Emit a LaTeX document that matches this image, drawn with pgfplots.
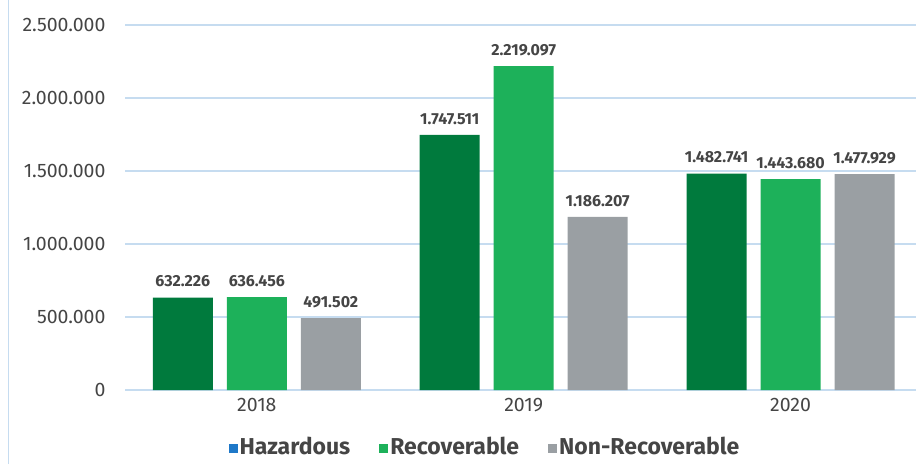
\documentclass[border=0pt]{standalone}
\usepackage{fontspec}
\setmainfont{Fira Sans}
\usepackage{pgfplots}
\pgfplotsset{compat=1.18}
\definecolor{dkgreen}{HTML}{007A3D}
\definecolor{ltgreen}{HTML}{1DB15A}
\definecolor{grayb}{HTML}{9A9FA3}
\definecolor{hazblue}{HTML}{1E78C8}
\definecolor{gridblue}{HTML}{C6DCF0}
\definecolor{txt}{HTML}{454545}
\begin{document}
\begin{tikzpicture}[x=1pt,y=1pt]
\useasboundingbox (0,0) rectangle (916,464);
\draw[gridblue, line width=1pt] (8,0) -- (8,464);
\begin{axis}[
  at={(125pt,74pt)}, anchor=south west,
  scale only axis, width=791pt, height=365pt,
  ybar, bar width=60pt,
  xmin=-0.494, xmax=2.47, ymin=0, ymax=2500000,
  xtick={0,1,2}, xticklabels={2018,2019,2020},
  ytick={0,500000,1000000,1500000,2000000,2500000},
  scaled y ticks=false,
  /pgf/number format/fixed,
  /pgf/number format/precision=0,
  /pgf/number format/1000 sep={.},
  /pgf/number format/assume math mode=true,
  ymajorgrids, grid style={gridblue, line width=1.3pt},
  axis line style={draw=none}, major tick length=0pt,
  ticklabel style={font=\fontsize{19.5}{19.5}\selectfont, text=txt},
  xticklabel style={yshift=-5pt},
  yticklabel style={xshift=-16pt},
  clip=false,
  nodes near coords,
  every node near coord/.append style={font=\bfseries\fontsize{16}{16}\selectfont, text=txt, yshift=7pt},
  legend style={at={(0.455,-0.156)}, anchor=center, draw=none, fill=none,
    legend columns=3, font=\bfseries\fontsize{23}{23}\selectfont, text=txt,
    /tikz/every even column/.append style={column sep=27pt}},
]
\addplot[fill=dkgreen, draw=none, bar shift=-74pt,
  legend image code/.code={\fill[hazblue] (2pt,-6pt) rectangle (11pt,3pt);}]
  coordinates {(0,632226) (1,1747511) (2,1482741)};
\addlegendentry{Hazardous}
\addplot[fill=ltgreen, draw=none, bar shift=0pt,
  legend image code/.code={\fill[ltgreen] (2pt,-6pt) rectangle (11pt,3pt);}]
  coordinates {(0,636456) (1,2219097) (2,1443680)};
\addlegendentry{Recoverable}
\addplot[fill=grayb, draw=none, bar shift=74pt,
  legend image code/.code={\fill[grayb] (2pt,-6pt) rectangle (11pt,3pt);}]
  coordinates {(0,491502) (1,1186207) (2,1477929)};
\addlegendentry{Non-Recoverable}
\end{axis}
\end{tikzpicture}
\end{document}
